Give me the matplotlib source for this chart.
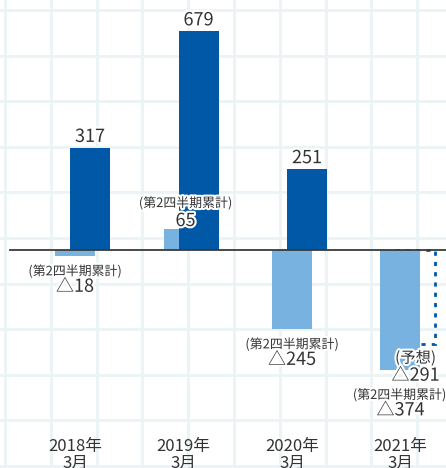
import numpy as np
import matplotlib
matplotlib.use('Agg')
import matplotlib.pyplot as plt
import matplotlib.patheffects as pe

plt.rcParams['font.family'] = ['Noto Sans CJK JP', 'DejaVu Sans']

# データ
years = ['2018年', '2019年', '2020年', '2021年']
months = ['3月', '3月', '3月', '3月']
full_year = [317, 679, 251]          # 通期（2018〜2020年3月）
forecast = -291                      # 2021年3月 予想
q2_cum = [-18, 65, -245, -374]       # 第2四半期累計

DARK = '#0058a6'
LIGHT = '#78b2e0'
TEXT = '#333333'
GRID = '#ebf3f6'

W, H = 446, 468
PX = 108.5            # 1カテゴリの幅(px)
SCALE = 0.322         # px / 億円
BASE_PX = 250         # 基準線のy(px)

fig = plt.figure(figsize=(W / 100, H / 100), dpi=100)

# 背景の方眼
bg = fig.add_axes([0, 0, 1, 1])
bg.set_xlim(0, W)
bg.set_ylim(H, 0)
bg.axis('off')
for gx in np.arange(5, W, 45.8):
    bg.axvline(gx, color=GRID, lw=2.0, zorder=0)
for gy in np.arange(10, H, 45.6):
    bg.axhline(gy, color=GRID, lw=2.0, zorder=0)

ax = fig.add_axes([0, 0, 1, 1])
ax.patch.set_alpha(0)
xmin = -75 / PX
ax.set_xlim(xmin, xmin + W / PX)
ax.set_ylim(-(H - BASE_PX) / SCALE, BASE_PX / SCALE)
ax.axis('off')

x = np.arange(len(years))
bw = 40 / PX
off = 15 / PX
halo = [pe.withStroke(linewidth=3, foreground='white')]
pt = 0.72  # px -> pt

# 予想（点線）
ax.bar(x[3] + off, forecast, width=bw, facecolor='none', edgecolor=DARK,
       linestyle=(0, (1.5, 2.2)), linewidth=2, zorder=1)
# 第2四半期累計
ax.bar(x, q2_cum, width=bw, color=LIGHT, zorder=2)
# 通期
ax.bar(x[:3] + off, full_year, width=bw, color=DARK, zorder=3)

ax.axhline(0, xmin=10 / W, xmax=1, color='#3a3a3a', lw=1.3, zorder=4)


def fmt(v):
    return f'△{abs(v)}' if v < 0 else f'{v}'


def label(xp, y, s, dy_px, size, dx_px=0):
    ax.annotate(s, (xp, y), xytext=(dx_px * pt, -dy_px * pt), textcoords='offset points',
                ha='center', va='baseline', fontsize=size, color=TEXT,
                path_effects=halo, zorder=6)


# 通期ラベル
for xi, v in zip(x[:3], full_year):
    label(xi + off, v, fmt(v), -6, 13)

# 第2四半期累計ラベル
for i, (xi, v) in enumerate(zip(x, q2_cum)):
    if v >= 0:
        label(xi, v, '(第2四半期累計)', -22, 9.3, 2)
        label(xi, v, fmt(v), -3, 13, 2)
    else:
        extra = 9 if i == 3 else 0
        dx = -1 if i == 3 else 0
        label(xi, v, '(第2四半期累計)', 19.5 + extra, 9.3, dx)
        label(xi, v, fmt(v), 36 + extra, 13)

# 予想ラベル
label(x[3] + off, forecast, '(予想)', 19, 11)
label(x[3] + off, forecast, fmt(forecast), 37, 13)

# 年ラベル
tr = ax.get_xaxis_transform()
for xi, yr, mo in zip(x, years, months):
    ax.text(xi, 1 - 451 / H, yr, transform=tr, ha='center', va='baseline',
            fontsize=12, color=TEXT)
    ax.text(xi, 1 - 468 / H, mo, transform=tr, ha='center', va='baseline',
            fontsize=12, color=TEXT)

fig.savefig('out.png', dpi=100)
